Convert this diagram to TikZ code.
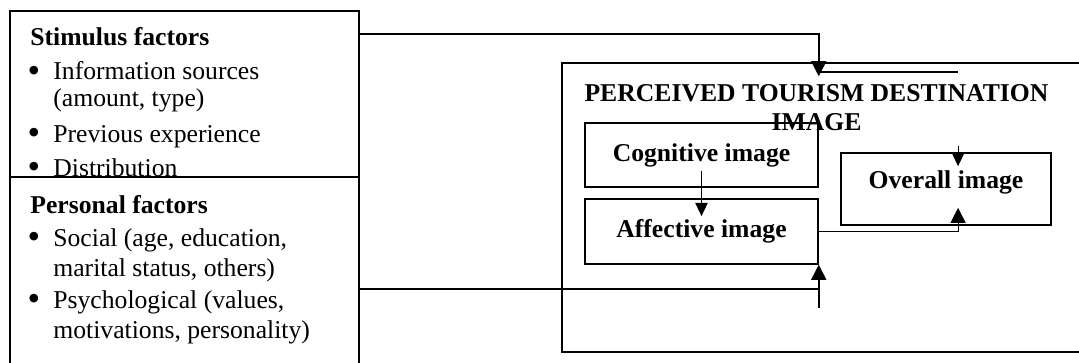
\documentclass[tikz,border=0pt]{standalone}
\usepackage{fontspec}
\setmainfont{Liberation Serif}
\usetikzlibrary{arrows.meta,calc}

\tikzset{
    mybox/.style 2 args={draw, line width=0.8pt, inner sep=0pt,
        minimum width=#1*0.53pt, minimum height=#2*0.53pt},
    boldtxt/.style={font=\fontsize{13.6}{16}\selectfont\bfseries},
    head/.style={boldtxt, anchor=base west, inner sep=0pt},
    txtline/.style={anchor=base west, inner sep=0pt},
    bul/.style={txtline, execute at begin node={\llap{\raisebox{-1.4pt}{\scalebox{1.4}{\textbullet}}\hspace{7pt}}}},
    bigarrow/.style={line width=0.8pt, -{Triangle[length=8pt,width=8pt]}},
    smallarrow/.style={line width=0.6pt, -{Triangle[length=7pt,width=6.5pt]}}
}

\begin{document}
\begin{tikzpicture}[x=0.53pt, y=-0.53pt, font=\fontsize{13.6}{16}\selectfont]
    \useasboundingbox (0,0) rectangle (1079,363);

    % Factor boxes on the left
    \node[mybox={349}{166}] (stim) at (184.5,94) {};
    \node[mybox={349}{206}] (pers) at (184.5,280) {};

    % Stimulus factors
    \node[head] (stimhead) at (30,46) {Stimulus factors};
    \node[bul] (s1) at (53,80) {Information sources};
    \node[txtline] (s2) at (53,106) {(amount, type)};
    \node[bul] (s3) at (53,142) {Previous experience};
    \node[bul] (s4) at (53,176) {Distribution};

    % Personal factors
    \node[head] (pershead) at (30,213) {Personal factors};
    \node[bul] (p1) at (53,246) {Social (age, education,};
    \node[txtline] (p2) at (53,276) {marital status, others)};
    \node[bul] (p3) at (53,308) {Psychological (values,};
    \node[txtline] (p4) at (53,338) {motivations, personality)};

    % Perceived destination image
    \node[mybox={538}{289}] (outer) at (831,207.5) {};
    \node[boldtxt, anchor=base, inner sep=0pt] (title1) at (816.5,101) {PERCEIVED TOURISM DESTINATION};
    \node[boldtxt, anchor=base, inner sep=0pt] (title2) at (816.5,131) {IMAGE};

    \node[mybox={233}{64}, boldtxt] (cog) at (701.5,155) {Cognitive image};
    \node[mybox={233}{65}, boldtxt] (aff) at (701.5,231.5) {Affective image};
    \node[mybox={210}{72}, boldtxt, text depth=10pt] (overall) at (946,189) {Overall image};

    % Connectors
    \coordinate (stimend) at ($(outer.north -| aff.east)+(0,14)$);
    \draw[bigarrow] ([yshift=31.8pt]stim.east) -| (stimend);
    \draw[line width=0.8pt] ($(outer.north -| aff.east)+(0,10)$) -- ($(outer.north -| overall.north)+(12,10)$);

    \draw[smallarrow] ([yshift=9pt]cog.south) -- ([yshift=-9.5pt]aff.north);
    \draw[smallarrow] ([shift={(6.4pt,3.2pt)}]overall.north) -- ([shift={(6.4pt,-7.4pt)}]overall.north);
    \draw[line width=0.5pt, -{Triangle[length=8pt,width=8pt]}] (aff.east) -| ([shift={(6.4pt,9.5pt)}]overall.south);

    \draw[bigarrow] ([yshift=-4.8pt]pers.east) -| (aff.south east);
    \draw[line width=0.8pt] ([yshift=-4.8pt]pers.east -| aff.south east) -- ++(0,19);

\end{tikzpicture}
\end{document}
